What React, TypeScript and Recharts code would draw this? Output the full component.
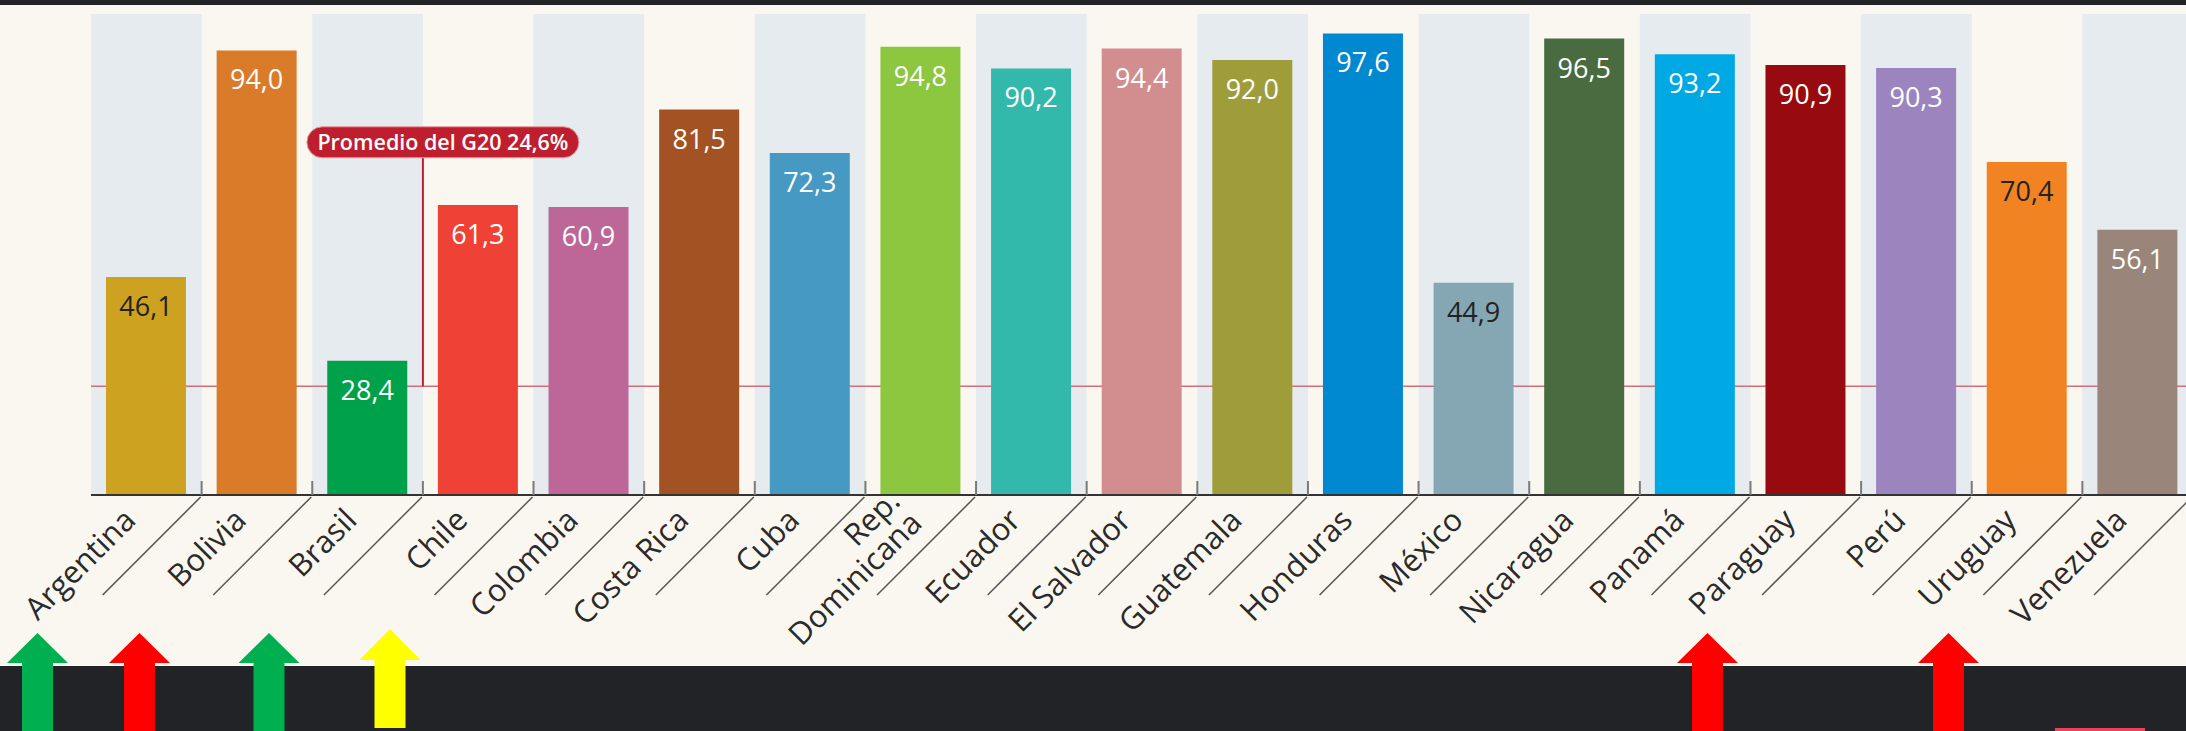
import { BarChart, Bar, XAxis, YAxis, ReferenceArea, ReferenceLine, Cell, LabelList } from 'recharts'

// Porcentaje por país
const countries = [
    'Argentina', 'Bolivia', 'Brasil', 'Chile', 'Colombia', 'Costa Rica', 'Cuba',
    'Rep. Dominicana', 'Ecuador', 'El Salvador', 'Guatemala', 'Honduras', 'México',
    'Nicaragua', 'Panamá', 'Paraguay', 'Perú', 'Uruguay', 'Venezuela'
]
const values = [46.1, 94.0, 28.4, 61.3, 60.9, 81.5, 72.3, 94.8, 90.2, 94.4, 92.0, 97.6, 44.9, 96.5, 93.2, 90.9, 90.3, 70.4, 56.1]
const barColors = [
    '#cea221', '#d97b28', '#00a14b', '#ef4136', '#bc6797', '#a35224', '#4599c3',
    '#8dc63f', '#33b9ab', '#d28e8e', '#9f9c3a', '#0088d1', '#85a7b4',
    '#4a6b3f', '#00a9e3', '#960a10', '#9c84be', '#f28322', '#998579'
]
const darkLabelCountries = ['Argentina', 'México', 'Uruguay']
// la línea del G20 está dibujada un poco más abajo que su valor en el original
const g20LineLevel = 23.0
const g20Text = 'Promedio del G20 24,6%'
const calloutTop = 71.3
const yMax = 101.7

const data = countries.map((country, i) => ({
    country,
    value: values[i],
    label: values[i].toFixed(1).replace('.', ',')
}))

const CountryTick = (props: any) => {
    const { x, y, payload } = props
    const half = payload.offset ?? 55
    const bx = x + half
    const name: string = payload.value
    const lines = name.startsWith('Rep. ') ? ['Rep.', name.slice(5)] : [name]
    const shift = lines.length > 1 ? 12 : 0
    return (
        <g>
            <line x1={bx} y1={y - 14} x2={bx} y2={y} stroke="#7a7a7a" strokeWidth={2} />
            <line x1={bx - 1} y1={y + 2} x2={bx - 99} y2={y + 100} stroke="#555" strokeWidth={1.5} />
            <text
                transform={`translate(${x - 9 + shift}, ${y + 27 + shift / 4}) rotate(-45)`}
                textAnchor="end"
                fontFamily="'Open Sans', sans-serif"
                fontSize={31}
                fill="#2a2a2a"
            >
                {lines.map((l, i) => (
                    <tspan key={l} x={0} y={(i - (lines.length - 1)) * 31}>{l}</tspan>
                ))}
            </text>
        </g>
    )
}

const ValueLabel = (props: any) => {
    const { x, y, width, value, index } = props
    const dark = darkLabelCountries.includes(countries[index])
    return (
        <text
            x={x + width / 2}
            y={y + 39}
            textAnchor="middle"
            fontFamily="'Open Sans', sans-serif"
            fontSize={27}
            fill={dark ? '#222' : '#fff'}
        >
            {value}
        </text>
    )
}

// Etiqueta roja sobre el conector
const PillLabel = (props: any) => {
    const { viewBox } = props
    const lx = viewBox.x
    const top = viewBox.y
    const w = 272
    const h = 31
    const px = lx - 116
    const py = top - h
    return (
        <g>
            <rect x={px} y={py} width={w} height={h} rx={h / 2} fill="#be1e2d" stroke="#e39aa1" strokeWidth={1} />
            <text
                x={px + w / 2}
                y={py + h / 2 + 7.5}
                textAnchor="middle"
                fontFamily="'Open Sans', sans-serif"
                fontWeight={600}
                fontSize={21.5}
                fill="#fff"
            >
                {g20Text}
            </text>
        </g>
    )
}

const arrow = (cx: number, tip: number, base: number, end: number) =>
    `${cx},${tip} ${cx + 30.5},${base} ${cx + 15.5},${base} ${cx + 15.5},${end} ${cx - 15.5},${end} ${cx - 15.5},${base} ${cx - 30.5},${base}`

const App = () => {
    return (
        <div style={{ position: 'relative', width: 2186, height: 731, overflow: 'hidden', background: '#faf7f0' }}>
            <style>{`body{margin:0}`}</style>
            <div style={{ position: 'absolute', left: 0, top: 0, width: 2186, height: 5, background: '#222326' }} />
            <div style={{ position: 'absolute', left: 0, top: 0 }}>
                <BarChart width={2200} height={666} data={data} margin={{ top: 14, right: 7, left: 91, bottom: 21 }}>
                    <XAxis
                        dataKey="country"
                        interval={0}
                        height={150}
                        tickSize={0}
                        tickMargin={0}
                        tickLine={false}
                        axisLine={{ stroke: '#333', strokeWidth: 2 }}
                        tick={<CountryTick />}
                    />
                    <YAxis domain={[0, yMax]} allowDataOverflow hide />
                    {countries.filter((_, i) => i % 2 === 0).map((c) => (
                        <ReferenceArea key={c} x1={c} x2={c} y1={0} y2={yMax} fill="#e5ebee" fillOpacity={1} stroke="none" />
                    ))}
                    <ReferenceLine y={g20LineLevel} stroke="#d0707a" strokeWidth={1.5} zIndex={150} />
                    <ReferenceLine
                        segment={[{ x: 'Chile', y: g20LineLevel }, { x: 'Chile', y: calloutTop }]}
                        position="start"
                        stroke="#be1e2d"
                        strokeWidth={2}
                        zIndex={150}
                        label={<PillLabel />}
                    />
                    <Bar dataKey="value" barSize={80} isAnimationActive={false}>
                        {data.map((d, i) => (
                            <Cell key={d.country} fill={barColors[i]} />
                        ))}
                        <LabelList dataKey="label" content={<ValueLabel />} />
                    </Bar>
                </BarChart>
            </div>
            <div style={{ position: 'absolute', left: 0, top: 666, width: 2186, height: 65, background: '#222326' }} />
            <svg width={2186} height={731} style={{ position: 'absolute', left: 0, top: 0 }}>
                <polygon points={arrow(37.5, 633, 663, 731)} fill="#00b050" />
                <polygon points={arrow(139.5, 633, 663, 731)} fill="#ff0000" />
                <polygon points={arrow(269, 633, 663, 731)} fill="#00b050" />
                <polygon points={arrow(390, 629, 660, 728)} fill="#ffff00" />
                <polygon points={arrow(1707.5, 633, 663, 731)} fill="#ff0000" />
                <polygon points={arrow(1948.5, 633, 663, 731)} fill="#ff0000" />
                <rect x={2055} y={728} width={90} height={3} fill="#e8435a" />
            </svg>
        </div>
    )
}

export default App
